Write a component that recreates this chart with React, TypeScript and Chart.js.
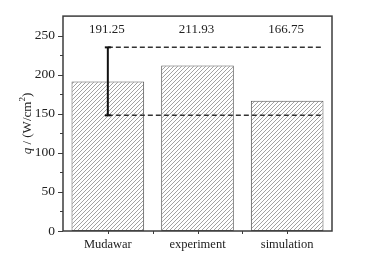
import React, { useEffect, useRef } from 'react';
import { Chart, registerables } from 'chart.js';

Chart.register(...registerables);

const categories = ['Mudawar', 'experiment', 'simulation'];
const heatFlux = [191.25, 211.93, 166.75];
const valueLabels = ['191.25', '211.93', '166.75'];
const errorHigh = 235;
const errorLow = 148;
const yMin = 0;
const yMax = 275;
const yStep = 25;
const yLabelStep = 50;
const valueLabelLevel = 258;

const SERIF = "'Liberation Serif', 'Times New Roman', serif";

function makeHatch(): CanvasPattern | string {
  const c = document.createElement('canvas');
  const s = 4;
  c.width = s;
  c.height = s;
  const g = c.getContext('2d');
  if (!g) return '#ccc';
  g.fillStyle = '#ffffff';
  g.fillRect(0, 0, s, s);
  g.strokeStyle = '#a2a2a2';
  g.lineWidth = 1;
  g.beginPath();
  g.moveTo(0, s);
  g.lineTo(s, 0);
  g.moveTo(-1, 1);
  g.lineTo(1, -1);
  g.moveTo(s - 1, s + 1);
  g.lineTo(s + 1, s - 1);
  g.stroke();
  const p = g.createPattern(c, 'repeat');
  return p || '#ccc';
}

const overlay = {
  id: 'overlay',
  afterDatasetsDraw(chart: any) {
    const { ctx, chartArea: a, scales } = chart;
    const x = scales.x;
    const y = scales.y;
    const meta = chart.getDatasetMeta(0);
    ctx.save();

    const line = (x1: number, y1: number, x2: number, y2: number) => {
      ctx.beginPath();
      ctx.moveTo(x1, y1);
      ctx.lineTo(x2, y2);
      ctx.stroke();
    };

    // frame
    ctx.strokeStyle = '#3c3c3c';
    ctx.lineWidth = 1.5;
    ctx.strokeRect(a.left, a.top, a.right - a.left, a.bottom - a.top);

    // y ticks (outward, major longer)
    ctx.lineWidth = 1;
    y.ticks.forEach((t: any) => {
      if (t.value >= yMax) return;
      const py = Math.round(y.getPixelForValue(t.value)) + 0.5;
      const major = t.value % yLabelStep === 0;
      line(a.left - (major ? 5 : 3), py, a.left, py);
    });

    // x ticks at centers and category boundaries
    const n = categories.length;
    for (let i = 0; i < n; i++) {
      const px = Math.round(x.getPixelForValue(i)) + 0.5;
      line(px, a.bottom, px, a.bottom + 3);
      if (i < n - 1) {
        const pb = Math.round((x.getPixelForValue(i) + x.getPixelForValue(i + 1)) / 2) + 0.5;
        line(pb, a.bottom, pb, a.bottom + 3);
      }
    }

    // dashed reference lines
    const b0 = meta.data[0];
    const bLast = meta.data[n - 1];
    const xStart = b0.x;
    const xEnd = bLast.x + bLast.width / 2;
    const yHi = y.getPixelForValue(errorHigh);
    const yLo = y.getPixelForValue(errorLow);
    ctx.strokeStyle = '#333';
    ctx.lineWidth = 1.5;
    ctx.setLineDash([5, 3]);
    line(xStart, yHi, xEnd, yHi);
    line(xStart, yLo, xEnd, yLo);
    ctx.setLineDash([]);

    // error bar
    ctx.strokeStyle = '#111';
    ctx.lineWidth = 2;
    line(xStart, yHi, xStart, yLo);
    line(xStart - 3, yHi, xStart + 3, yHi);
    line(xStart - 3, yLo, xStart + 3, yLo);

    // value labels
    ctx.fillStyle = '#222';
    ctx.font = `13px ${SERIF}`;
    ctx.textAlign = 'center';
    ctx.textBaseline = 'middle';
    const ly = y.getPixelForValue(valueLabelLevel);
    meta.data.forEach((bar: any, i: number) => {
      ctx.fillText(valueLabels[i], bar.x - 1, ly);
    });

    // y axis title: q / (W/cm²)
    const cx = 28;
    const cy = (a.top + a.bottom) / 2;
    ctx.translate(cx, cy);
    ctx.rotate(-Math.PI / 2);
    ctx.textAlign = 'left';
    ctx.textBaseline = 'middle';
    const fItalic = `italic 13px ${SERIF}`;
    const fNormal = `13px ${SERIF}`;
    const fSup = `9px ${SERIF}`;
    const parts = [
      { t: 'q', f: fItalic, dy: 0 },
      { t: ' / (W/cm', f: fNormal, dy: 0 },
      { t: '2', f: fSup, dy: -5 },
      { t: ')', f: fNormal, dy: 0 },
    ];
    let total = 0;
    parts.forEach((p) => {
      ctx.font = p.f;
      total += ctx.measureText(p.t).width;
    });
    let px = -total / 2;
    parts.forEach((p) => {
      ctx.font = p.f;
      ctx.fillText(p.t, px, p.dy);
      px += ctx.measureText(p.t).width;
    });

    ctx.restore();
  },
};

export default function App() {
  const ref = useRef<HTMLCanvasElement | null>(null);

  useEffect(() => {
    if (!ref.current) return;
    const hatch = makeHatch();
    const chart = new Chart(ref.current, {
      type: 'bar',
      data: {
        labels: categories,
        datasets: [
          {
            data: heatFlux,
            backgroundColor: hatch as any,
            borderColor: '#555',
            borderWidth: 1,
            borderSkipped: false,
            barPercentage: 0.81,
            categoryPercentage: 1,
          },
        ],
      },
      options: {
        responsive: false,
        animation: false,
        layout: { padding: { top: 14, right: 33, left: 0, bottom: 0 } },
        plugins: {
          legend: { display: false },
          tooltip: { enabled: false },
        },
        scales: {
          x: {
            grid: { display: false, drawTicks: false },
            border: { display: false },
            ticks: {
              color: '#222',
              padding: 6,
              font: { family: SERIF, size: 12.5 },
              maxRotation: 0,
            },
            afterFit: (s: any) => {
              s.height = 27;
            },
          },
          y: {
            min: yMin,
            max: yMax,
            grid: { display: false, drawTicks: false },
            border: { display: false },
            ticks: {
              stepSize: yStep,
              color: '#222',
              padding: 8,
              font: { family: SERIF, size: 13.5 },
              callback: (v: any) => (Number(v) % yLabelStep === 0 ? String(v) : ''),
            },
            afterFit: (s: any) => {
              s.width = 63;
            },
          },
        },
      },
      plugins: [overlay],
    });
    return () => chart.destroy();
  }, []);

  return (
    <div style={{ position: 'fixed', left: 0, top: 0, width: 365, height: 258, background: '#fff' }}>
      <canvas ref={ref} width={365} height={258} style={{ display: 'block' }} />
    </div>
  );
}
